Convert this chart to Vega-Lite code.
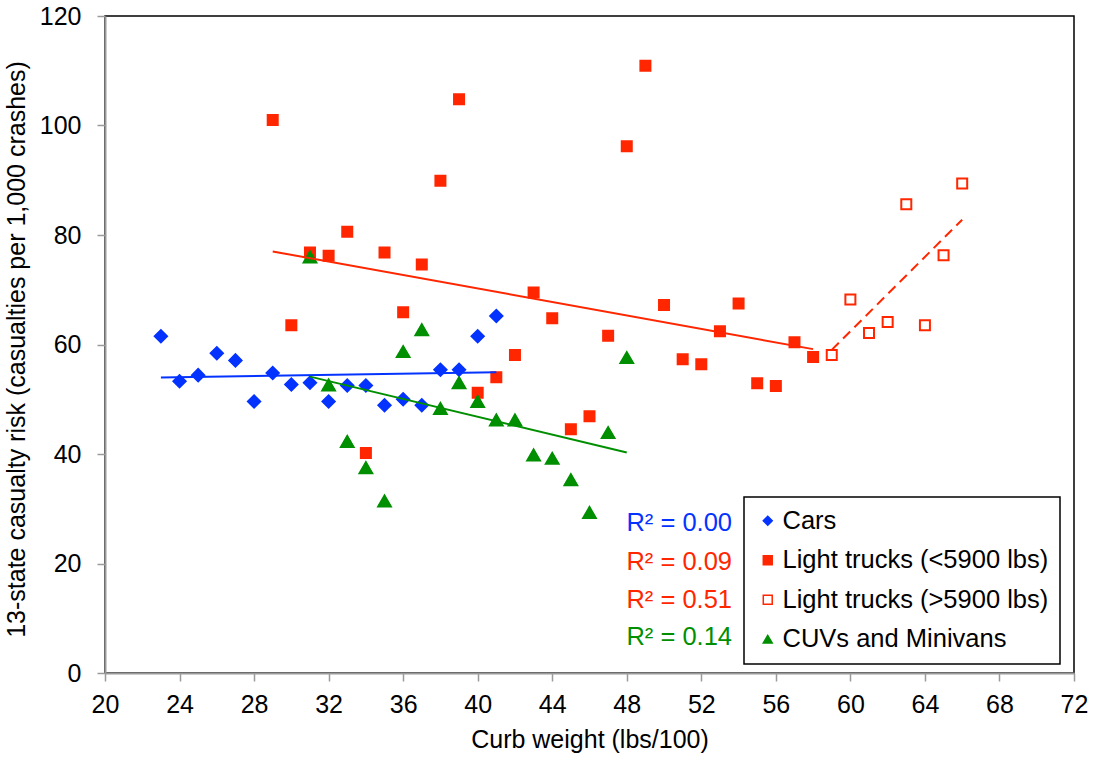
{
  "$schema": "https://vega.github.io/schema/vega-lite/v6.json",
  "width": 969,
  "height": 657,
  "autosize": {"type": "none"},
  "padding": {"left": 105, "top": 16, "right": 20, "bottom": 86},
  "background": "white",
  "config": {
    "font": "Liberation Sans",
    "view": {"stroke": "black", "strokeWidth": 1.5},
    "axis": {
      "grid": false,
      "domainColor": "#9a9a9a",
      "domainWidth": 2,
      "tickColor": "#9a9a9a",
      "tickWidth": 1.5,
      "tickSize": 8,
      "labelColor": "black",
      "labelFontSize": 25,
      "labelFlush": false,
      "labelOverlap": false,
      "titleColor": "black",
      "titleFontSize": 25,
      "titleFontWeight": "normal"
    },
    "legend": {"strokeWidth": 1.5}
  },
  "data": {
    "values": [
      {"group": "Cars", "x": 23, "y": 61.5},
      {"group": "Cars", "x": 24, "y": 53.3},
      {"group": "Cars", "x": 25, "y": 54.4},
      {"group": "Cars", "x": 26, "y": 58.4},
      {"group": "Cars", "x": 27, "y": 57.1},
      {"group": "Cars", "x": 28, "y": 49.6},
      {"group": "Cars", "x": 29, "y": 54.8},
      {"group": "Cars", "x": 30, "y": 52.7},
      {"group": "Cars", "x": 31, "y": 53.0},
      {"group": "Cars", "x": 32, "y": 49.6},
      {"group": "Cars", "x": 33, "y": 52.5},
      {"group": "Cars", "x": 34, "y": 52.5},
      {"group": "Cars", "x": 35, "y": 48.9},
      {"group": "Cars", "x": 36, "y": 50.0},
      {"group": "Cars", "x": 37, "y": 48.9},
      {"group": "Cars", "x": 38, "y": 55.4},
      {"group": "Cars", "x": 39, "y": 55.4},
      {"group": "Cars", "x": 40, "y": 61.5},
      {"group": "Cars", "x": 41, "y": 65.2},
      {"group": "Light trucks (<5900 lbs)", "x": 29, "y": 101.0},
      {"group": "Light trucks (<5900 lbs)", "x": 30, "y": 63.5},
      {"group": "Light trucks (<5900 lbs)", "x": 31, "y": 76.8},
      {"group": "Light trucks (<5900 lbs)", "x": 32, "y": 76.2},
      {"group": "Light trucks (<5900 lbs)", "x": 33, "y": 80.6},
      {"group": "Light trucks (<5900 lbs)", "x": 34, "y": 40.2},
      {"group": "Light trucks (<5900 lbs)", "x": 35, "y": 76.8},
      {"group": "Light trucks (<5900 lbs)", "x": 36, "y": 65.9},
      {"group": "Light trucks (<5900 lbs)", "x": 37, "y": 74.6},
      {"group": "Light trucks (<5900 lbs)", "x": 38, "y": 89.9},
      {"group": "Light trucks (<5900 lbs)", "x": 39, "y": 104.8},
      {"group": "Light trucks (<5900 lbs)", "x": 40, "y": 51.2},
      {"group": "Light trucks (<5900 lbs)", "x": 41, "y": 54.0},
      {"group": "Light trucks (<5900 lbs)", "x": 42, "y": 58.1},
      {"group": "Light trucks (<5900 lbs)", "x": 43, "y": 69.5},
      {"group": "Light trucks (<5900 lbs)", "x": 44, "y": 64.8},
      {"group": "Light trucks (<5900 lbs)", "x": 45, "y": 44.5},
      {"group": "Light trucks (<5900 lbs)", "x": 46, "y": 46.9},
      {"group": "Light trucks (<5900 lbs)", "x": 47, "y": 61.6},
      {"group": "Light trucks (<5900 lbs)", "x": 48, "y": 96.2},
      {"group": "Light trucks (<5900 lbs)", "x": 49, "y": 110.9},
      {"group": "Light trucks (<5900 lbs)", "x": 50, "y": 67.2},
      {"group": "Light trucks (<5900 lbs)", "x": 51, "y": 57.3},
      {"group": "Light trucks (<5900 lbs)", "x": 52, "y": 56.4},
      {"group": "Light trucks (<5900 lbs)", "x": 53, "y": 62.4},
      {"group": "Light trucks (<5900 lbs)", "x": 54, "y": 67.5},
      {"group": "Light trucks (<5900 lbs)", "x": 55, "y": 52.9},
      {"group": "Light trucks (<5900 lbs)", "x": 56, "y": 52.4},
      {"group": "Light trucks (<5900 lbs)", "x": 57, "y": 60.4},
      {"group": "Light trucks (<5900 lbs)", "x": 58, "y": 57.7},
      {"group": "Light trucks (>5900 lbs)", "x": 59, "y": 58.1},
      {"group": "Light trucks (>5900 lbs)", "x": 60, "y": 68.2},
      {"group": "Light trucks (>5900 lbs)", "x": 61, "y": 62.1},
      {"group": "Light trucks (>5900 lbs)", "x": 62, "y": 64.1},
      {"group": "Light trucks (>5900 lbs)", "x": 63, "y": 85.6},
      {"group": "Light trucks (>5900 lbs)", "x": 64, "y": 63.5},
      {"group": "Light trucks (>5900 lbs)", "x": 65, "y": 76.3},
      {"group": "Light trucks (>5900 lbs)", "x": 66, "y": 89.4},
      {"group": "CUVs and Minivans", "x": 31, "y": 76.0},
      {"group": "CUVs and Minivans", "x": 32, "y": 52.6},
      {"group": "CUVs and Minivans", "x": 33, "y": 42.3},
      {"group": "CUVs and Minivans", "x": 34, "y": 37.5},
      {"group": "CUVs and Minivans", "x": 35, "y": 31.4},
      {"group": "CUVs and Minivans", "x": 36, "y": 58.7},
      {"group": "CUVs and Minivans", "x": 37, "y": 62.7},
      {"group": "CUVs and Minivans", "x": 38, "y": 48.3},
      {"group": "CUVs and Minivans", "x": 39, "y": 53.0},
      {"group": "CUVs and Minivans", "x": 40, "y": 49.6},
      {"group": "CUVs and Minivans", "x": 41, "y": 46.2},
      {"group": "CUVs and Minivans", "x": 42, "y": 46.2},
      {"group": "CUVs and Minivans", "x": 43, "y": 39.8},
      {"group": "CUVs and Minivans", "x": 44, "y": 39.2},
      {"group": "CUVs and Minivans", "x": 45, "y": 35.3},
      {"group": "CUVs and Minivans", "x": 46, "y": 29.3},
      {"group": "CUVs and Minivans", "x": 47, "y": 43.9},
      {"group": "CUVs and Minivans", "x": 48, "y": 57.6}
    ]
  },
  "layer": [
    {
      "mark": {"type": "point", "strokeWidth": 2, "opacity": 1, "size": 100},
      "encoding": {
        "x": {
          "field": "x", "type": "quantitative",
          "scale": {"domain": [20, 72], "nice": false, "zero": false},
          "axis": {"values": [20, 24, 28, 32, 36, 40, 44, 48, 52, 56, 60, 64, 68, 72], "labelFontSize": 25, "labelFlush": false, "labelPadding": 11, "titleFontSize": 25, "titlePadding": 10, "title": "Curb weight (lbs/100)",
            "encode": {"labels": {"update": {"fontSize": {"value": 25}}}}}
        },
        "y": {
          "field": "y", "type": "quantitative",
          "scale": {"domain": [0, 120], "nice": false},
          "axis": {"values": [0, 20, 40, 60, 80, 100, 120], "labelFontSize": 25, "labelFlush": false, "labelPadding": 16, "titleFontSize": 25, "titlePadding": 10, "titleY": 333, "title": "13-state casualty risk (casualties per 1,000 crashes)",
            "encode": {"labels": {"update": {"fontSize": {"value": 25}}}}}
        },
        "shape": {
          "field": "group", "type": "nominal",
          "scale": {"domain": ["Cars", "Light trucks (<5900 lbs)", "Light trucks (>5900 lbs)", "CUVs and Minivans"], "range": ["diamond", "square", "square", "triangle-up"]},
          "legend": {"orient": "none", "legendX": 639, "legendY": 481, "title": null, "strokeColor": "black", "padding": 11, "labelFontSize": 25.5, "labelColor": "black", "labelLimit": 500, "symbolSize": 80, "symbolStrokeWidth": 1.5, "rowPadding": 12.5, "labelOffset": 2}
        },
        "fill": {
          "field": "group", "type": "nominal",
          "scale": {"domain": ["Cars", "Light trucks (<5900 lbs)", "Light trucks (>5900 lbs)", "CUVs and Minivans"], "range": ["#0433FF", "#FF2600", "#FFFFFF", "#008F00"]},
          "legend": {"orient": "none", "legendX": 639, "legendY": 481, "title": null, "strokeColor": "black", "padding": 11, "labelFontSize": 25.5, "labelColor": "black", "labelLimit": 500, "symbolSize": 80, "symbolStrokeWidth": 1.5, "rowPadding": 12.5, "labelOffset": 2}
        },
        "stroke": {
          "field": "group", "type": "nominal",
          "scale": {"domain": ["Cars", "Light trucks (<5900 lbs)", "Light trucks (>5900 lbs)", "CUVs and Minivans"], "range": ["#0433FF", "#FF2600", "#FF2600", "#008F00"]},
          "legend": {"orient": "none", "legendX": 639, "legendY": 481, "title": null, "strokeColor": "black", "padding": 11, "labelFontSize": 25.5, "labelColor": "black", "labelLimit": 500, "symbolSize": 80, "symbolStrokeWidth": 1.5, "rowPadding": 12.5, "labelOffset": 2}
        }
      }
    },
    {
      "transform": [{"filter": "datum.group === 'Cars'"}],
      "mark": {"type": "point", "shape": "diamond", "size": 150, "filled": true, "fill": "#0433FF", "stroke": "#0433FF", "strokeWidth": 2, "opacity": 1},
      "encoding": {"x": {"field": "x", "type": "quantitative"}, "y": {"field": "y", "type": "quantitative"}}
    },
    {
      "transform": [{"filter": "datum.group === 'CUVs and Minivans'"}],
      "mark": {"type": "point", "shape": "triangle-up", "size": 160, "filled": true, "fill": "#008F00", "stroke": "#008F00", "strokeWidth": 2, "opacity": 1},
      "encoding": {"x": {"field": "x", "type": "quantitative"}, "y": {"field": "y", "type": "quantitative"}}
    },
    {
      "transform": [{"filter": "datum.group === 'Cars'"}, {"regression": "y", "on": "x"}],
      "mark": {"type": "line", "color": "#0433FF", "strokeWidth": 2},
      "encoding": {"x": {"field": "x", "type": "quantitative"}, "y": {"field": "y", "type": "quantitative"}}
    },
    {
      "transform": [{"filter": "datum.group === 'Light trucks (<5900 lbs)'"}, {"regression": "y", "on": "x"}],
      "mark": {"type": "line", "color": "#FF2600", "strokeWidth": 2},
      "encoding": {"x": {"field": "x", "type": "quantitative"}, "y": {"field": "y", "type": "quantitative"}}
    },
    {
      "transform": [{"filter": "datum.group === 'Light trucks (>5900 lbs)'"}, {"regression": "y", "on": "x"}],
      "mark": {"type": "line", "color": "#FF2600", "strokeWidth": 2, "strokeDash": [10, 6]},
      "encoding": {"x": {"field": "x", "type": "quantitative"}, "y": {"field": "y", "type": "quantitative"}}
    },
    {
      "transform": [{"filter": "datum.group === 'CUVs and Minivans'"}, {"regression": "y", "on": "x"}],
      "mark": {"type": "line", "color": "#008F00", "strokeWidth": 2},
      "encoding": {"x": {"field": "x", "type": "quantitative"}, "y": {"field": "y", "type": "quantitative"}}
    },
    {
      "data": {
        "values": [
          {"label": "R² = 0.00", "series": "Cars", "lx": 53.65, "ly": 27.4},
          {"label": "R² = 0.09", "series": "Light trucks (<5900 lbs)", "lx": 53.65, "ly": 20.3},
          {"label": "R² = 0.51", "series": "Light trucks (>5900 lbs)", "lx": 53.65, "ly": 13.3},
          {"label": "R² = 0.14", "series": "CUVs and Minivans", "lx": 53.65, "ly": 6.6}
        ]
      },
      "mark": {"type": "text", "align": "right", "baseline": "middle", "fontSize": 25.5},
      "encoding": {
        "x": {"field": "lx", "type": "quantitative"},
        "y": {"field": "ly", "type": "quantitative"},
        "text": {"field": "label", "type": "nominal"},
        "color": {
          "field": "series", "type": "nominal", "legend": null,
          "scale": {"domain": ["Cars", "Light trucks (<5900 lbs)", "Light trucks (>5900 lbs)", "CUVs and Minivans"], "range": ["#0433FF", "#FF2600", "#FF2600", "#008F00"]}
        }
      }
    }
  ]
}
